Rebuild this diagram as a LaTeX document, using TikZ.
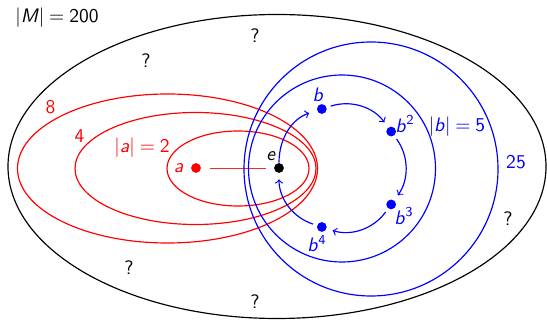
\documentclass[tikz,border=0pt]{standalone}
\usetikzlibrary{positioning, calc}
\newcommand{\vr}[1]{\textit{#1}}
\newcommand{\eqs}{\kern2.5pt=\kern2.5pt}
\begin{document}
\sffamily
\begin{tikzpicture}[x=0.018cm, y=-0.018cm, line width=0.6pt,
    dot/.style={circle, fill, inner sep=0pt, minimum size=5pt},
    arr/.style={->, shorten >=3pt, shorten <=2pt},
  ]
  \useasboundingbox (0,0) rectangle (547,320);

  % the whole monoid
  \draw (277,166.5) ellipse [x radius=269, y radius=152];
  \node (M) at (57,18) {|\vr{M}|\eqs200};
  \foreach \q/\p in {q1/{255,36}, q2/{146,61}, q3/{508,219}, q4/{129,268}, q5/{255,302}}
    \node (\q) at (\p) {?};

  % powers of a
  \begin{scope}[red]
    \draw (238,168.5) ellipse [x radius=71, y radius=37.5];
    \draw (195.5,168.5) ellipse [x radius=120.5, y radius=56];
    \draw (167.5,168.5) ellipse [x radius=150, y radius=74.5];
    \node (a2) at (142,148) {|\vr{a}|\eqs2};
    \node (a4) at (79.5,136) {4};
    \node (a8) at (50.6,107) {8};
    \node[dot] (a) at (196,168) {};
    \node[left=0pt of a] (la) {\vr{a}};
  \end{scope}

  % identity
  \node[dot] (e) at (279,168) {};
  \node (le) at (271,156) {\vr{e}};
  \draw[red!85, line width=0.5pt, shorten <=4.5pt, shorten >=4pt] (a) -- (e);

  % cycle of b
  \begin{scope}[blue]
    \draw (342,168.5) circle [radius=93.5];
    \draw (371,169) circle [radius=127];
    \node (b5) at (457,127) {|\vr{b}|\eqs5};
    \node (b25) at (516,162) {25};
    \node[dot] (b1) at ($(341,168)+(-108:62)$) {};
    \node[dot] (b2) at ($(341,168)+(-36:62)$) {};
    \node[dot] (b3) at ($(341,168)+(36:62)$) {};
    \node[dot] (b4) at ($(341,168)+(108:62)$) {};
    \node (lb1) at (318,95) {\vr{b}};
    \node (lb2) at (405,124) {\vr{b}\textsuperscript{2}};
    \node (lb3) at (404,216) {\vr{b}\textsuperscript{3}};
    \node (lb4) at (317,244) {\vr{b}\textsuperscript{4}};
    \draw[arr, shorten <=0pt, shorten >=4pt] (e) to[bend left=36] (b1);
    \draw[arr] (b1) to[bend left=36] (b2);
    \draw[arr] (b2) to[bend left=36] (b3);
    \draw[arr] (b3) to[bend left=36] (b4);
    \draw[arr] (b4) to[bend left=36] (e);
  \end{scope}
\end{tikzpicture}
\end{document}
